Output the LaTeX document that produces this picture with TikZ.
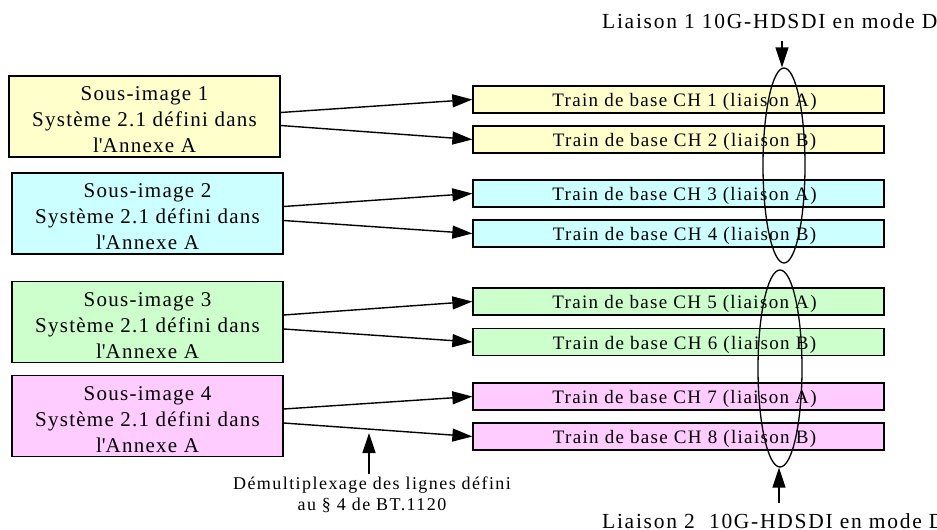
\documentclass[tikz,border=0pt]{standalone}
\usepackage{fontspec}
\setmainfont{Liberation Serif}
\usepackage{tikz}
\usetikzlibrary{shapes,arrows,arrows.meta,calc}
\definecolor{cYellow}{HTML}{FFFFCC}
\definecolor{cCyan}{HTML}{CCFFFF}
\definecolor{cGreen}{HTML}{CCFFCC}
\definecolor{cPink}{HTML}{FFCCFF}
\tikzstyle{tsSubImage} = [
    rectangle,
    draw=black,
    line width=1.3pt,
    minimum width=271pt,
    minimum height=81pt,
    inner sep=0pt,
    align=center,
    font=\fontsize{21}{26}\selectfont\addfontfeatures{LetterSpace=6}]
\tikzstyle{tsTrain} = [
    rectangle,
    draw=black,
    line width=1.3pt,
    minimum width=411pt,
    minimum height=27pt,
    inner sep=0pt,
    text height=18pt,
    text depth=4pt,
    execute at begin node=\hspace*{12pt},
    font=\fontsize{19}{20}\selectfont\addfontfeatures{LetterSpace=7}]
\tikzstyle{tsLink} = [
    ellipse,
    draw=black,
    line width=1.3pt,
    inner sep=0pt]
\tikzstyle{tsArrow} = [
    -{Triangle[length=20pt,width=13pt]},
    line width=1.4pt]
\tikzstyle{tsNote} = [
    inner sep=0pt,
    text=black]

\begin{document}
\begin{tikzpicture}[x=1pt,y=-1pt]
    \useasboundingbox (0,0) rectangle (937,530);

    \node[tsSubImage, fill=cYellow] (s1) at (144.5,116.5) {\rule{0pt}{20.5pt}Sous-image 1\\Système 2.1 défini dans\\l\textquotesingle Annexe A};
    \node[tsSubImage, fill=cCyan]   (s2) at (147.5,213.5) {\rule{0pt}{20.5pt}Sous-image 2\\Système 2.1 défini dans\\l\textquotesingle Annexe A};
    \node[tsSubImage, fill=cGreen]  (s3) at (147.5,322)   {\rule{0pt}{20.5pt}Sous-image 3\\Système 2.1 défini dans\\l\textquotesingle Annexe A};
    \node[tsSubImage, fill=cPink]   (s4) at (147.5,416)   {\rule{0pt}{20.5pt}Sous-image 4\\Système 2.1 défini dans\\l\textquotesingle Annexe A};

    \node[tsTrain, fill=cYellow] (c1) at (678.5,99.5)  {Train de base CH 1 (liaison A)};
    \node[tsTrain, fill=cYellow] (c2) at (678.5,139.5) {Train de base CH 2 (liaison B)};
    \node[tsTrain, fill=cCyan]   (c3) at (678.5,193.5) {Train de base CH 3 (liaison A)};
    \node[tsTrain, fill=cCyan]   (c4) at (678.5,233.5) {Train de base CH 4 (liaison B)};
    \node[tsTrain, fill=cGreen]  (c5) at (678.5,301.5) {Train de base CH 5 (liaison A)};
    \node[tsTrain, fill=cGreen]  (c6) at (678.5,342)   {Train de base CH 6 (liaison B)};
    \node[tsTrain, fill=cPink]   (c7) at (678.5,396.5) {Train de base CH 7 (liaison A)};
    \node[tsTrain, fill=cPink]   (c8) at (678.5,436.5) {Train de base CH 8 (liaison B)};

    \draw[tsArrow] ([yshift=4pt]s1.east)  -- (c1.west);
    \draw[tsArrow] ([yshift=-9pt]s1.east) -- (c2.west);
    \draw[tsArrow] ([yshift=7pt]s2.east)  -- (c3.west);
    \draw[tsArrow] ([yshift=-7pt]s2.east) -- (c4.west);
    \draw[tsArrow] ([yshift=7pt]s3.east)  -- (c5.west);
    \draw[tsArrow] ([yshift=-7pt]s3.east) -- (c6.west);
    \draw[tsArrow] ([yshift=7pt]s4.east)  -- (c7.west);
    \draw[tsArrow] ([yshift=-7pt]s4.east) -- (c8.west);

    \node[tsLink, minimum width=42pt, minimum height=195pt] (l1) at (784,165.5) {};
    \node[tsLink, minimum width=44pt, minimum height=197pt] (l2) at (780,368.5) {};

    \node[tsNote, anchor=west, font=\fontsize{21.5}{24}\selectfont\addfontfeatures{LetterSpace=8}] (t1) at (602,21) {Liaison 1 10G-HDSDI en mode D};
    \node[tsNote, anchor=west, font=\fontsize{21.5}{24}\selectfont\addfontfeatures{LetterSpace=8}] (t2) at (602,521) {Liaison 2\ \ 10G-HDSDI en mode D};
    \coordinate (t1a) at (782,41);
    \coordinate (t2a) at (779,503);
    \draw[tsArrow] (t1a) -- (t1a |- l1.north);
    \draw[tsArrow] (t2a) -- (t2a |- l2.south);

    \node[tsNote, align=center, font=\fontsize{18}{21}\selectfont\addfontfeatures{LetterSpace=8}] (dm) at (372,495) {Démultiplexage des lignes défini\\au § 4 de BT.1120};
    \coordinate (dmtip) at (369,433);
    \draw[tsArrow] (dmtip |- dm.north) ++(0,-3) -- (dmtip);
\end{tikzpicture}
\end{document}
